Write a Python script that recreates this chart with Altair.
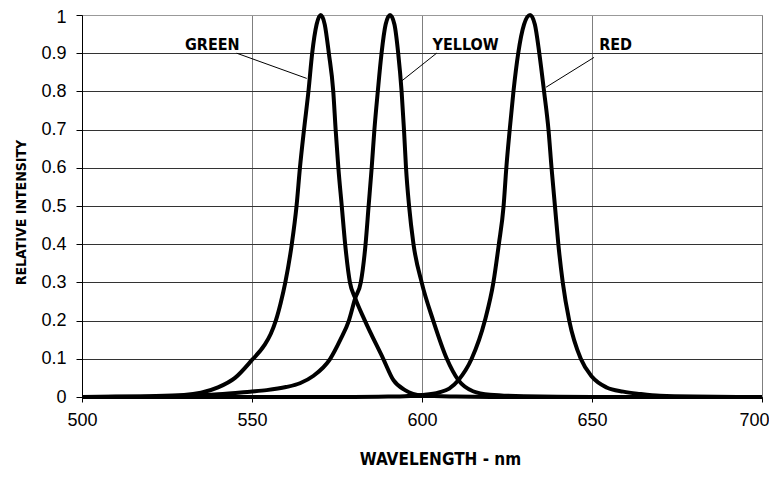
import altair as alt
import pandas as pd

# ---- data ----
green_wl = [500, 510, 520, 530, 535, 540, 545, 550, 553.6, 555.5, 557.0, 558.4, 559.8, 561.7, 563.1, 564.1, 565.3,
            566.6, 567.7, 569.0, 570.2, 571.4, 572.6, 573.9, 574.6, 575.4, 576.4, 577.4, 578.8, 580.3, 583.2,
            588.6, 591.6, 595, 600, 610, 620, 700]
green_v = [0, 0.001, 0.002, 0.005, 0.011, 0.025, 0.05, 0.097, 0.135, 0.165, 0.2, 0.245, 0.3, 0.4, 0.5, 0.6, 0.7,
           0.8, 0.9, 0.975, 1.0, 0.975, 0.9, 0.8, 0.7, 0.6, 0.5, 0.4, 0.3, 0.26, 0.2,
           0.1, 0.044, 0.018, 0.004, 0.001, 0, 0]

yellow_wl = [500, 520, 530, 540, 549.4, 554.3, 560, 564.1, 568, 573, 576, 578.5, 580.4, 582, 583.4, 584.3, 585.2,
             586, 587, 588.1, 589.3, 590.6, 591.9, 593.0, 594.0, 594.7, 595.3, 596.2, 597.5, 599.9, 603.3, 607.3,
             610.7, 615, 620, 630, 650, 700]
yellow_v = [0, 0.001, 0.003, 0.007, 0.014, 0.018, 0.026, 0.036, 0.055, 0.1, 0.15, 0.2, 0.26, 0.3, 0.4, 0.5, 0.6,
            0.7, 0.8, 0.9, 0.975, 1.0, 0.975, 0.9, 0.8, 0.7, 0.6, 0.5, 0.4, 0.3, 0.2, 0.1,
            0.044, 0.015, 0.006, 0.002, 0, 0]

red_wl = [500, 580, 590, 595, 600, 605, 608, 610.7, 614.6, 618.5, 621, 622.6, 624.0, 624.8, 625.8, 626.9, 628.3,
          630.0, 631.8, 633.2, 634.5, 635.9, 637.2, 638.1, 639.1, 640.1, 641.4, 643.3, 646.7, 650, 654.3, 659.2,
          664.1, 670, 680, 700]
red_v = [0, 0, 0.001, 0.002, 0.005, 0.012, 0.022, 0.044, 0.1, 0.2, 0.3, 0.4, 0.5, 0.6, 0.7, 0.8, 0.9,
         0.975, 1.0, 0.975, 0.9, 0.8, 0.7, 0.6, 0.5, 0.4, 0.3, 0.2, 0.1, 0.053, 0.025, 0.014,
         0.008, 0.003, 0.001, 0]

label_text = ["GREEN", "YELLOW", "RED"]
label_x = [530.3, 603.1, 652.1]
label_y = [0.908, 0.908, 0.908]

leader_x1 = [545.5, 604.3, 650.6]
leader_y1 = [0.9, 0.9, 0.889]
leader_x2 = [566.1, 593.7, 636.5]
leader_y2 = [0.834, 0.825, 0.811]

x_ticks = [500, 550, 600, 650, 700]
y_ticks = [0, 0.1, 0.2, 0.3, 0.4, 0.5, 0.6, 0.7, 0.8, 0.9, 1]

# ---- tables ----
rows = []
for name, wl, vals in [("GREEN", green_wl, green_v), ("YELLOW", yellow_wl, yellow_v), ("RED", red_wl, red_v)]:
    for w, v in zip(wl, vals):
        rows.append({"series": name, "wl": w, "v": v})
curves = pd.DataFrame(rows)
labels = pd.DataFrame({"text": label_text, "x": label_x, "y": label_y})
leaders = pd.DataFrame({"x1": leader_x1, "y1": leader_y1, "x2": leader_x2, "y2": leader_y2})

TICK_FONT = "Liberation Sans, Arial, sans-serif"
BOLD_COND = "DejaVu Sans Condensed, sans-serif"

x_scale = alt.Scale(domain=[500, 700], nice=False, zero=False)
y_scale = alt.Scale(domain=[0, 1], nice=False, zero=True)

x_axis = alt.Axis(values=x_ticks, format="d", labelFont=TICK_FONT, labelFontSize=18, labelColor="black",
                  labelPadding=9, tickSize=5, tickColor="black", domainColor="black",
                  gridColor="#7f7f7f", gridWidth=1, labelOverlap=False, labelFlush=False,
                  labelOffset={"condition": {"test": "datum.value === 700", "value": -8}, "value": 0},
                  title="WAVELENGTH - nm", titleFont=BOLD_COND, titleFontSize=17, titleFontWeight="bold",
                  titleColor="black", titleX=358, titleY=67, titleAlign="center", titleBaseline="alphabetic")
y_axis = alt.Axis(values=y_ticks, format="~g", labelFont=TICK_FONT, labelFontSize=18, labelColor="black",
                  labelPadding=10, tickSize=6, tickColor="black", domainColor="black",
                  labelOffset={"condition": {"test": "datum.value === 1", "value": 2}, "value": 0},
                  gridColor={"condition": {"test": "datum.value === 1", "value": "#999999"}, "value": "#333333"},
                  gridWidth=1, labelOverlap=False, labelFlush=False,
                  title="RELATIVE INTENSITY", titleFont=BOLD_COND, titleFontSize=14, titleFontWeight="bold",
                  titleColor="black", titleAngle=270, titleX=-57, titleY=197, titleAlign="center",
                  titleBaseline="alphabetic")

lines = alt.Chart(curves).mark_line(color="black", strokeWidth=4, interpolate="monotone").encode(
    x=alt.X("wl:Q", scale=x_scale, axis=x_axis),
    y=alt.Y("v:Q", scale=y_scale, axis=y_axis),
    detail="series:N",
)

leader_rules = alt.Chart(leaders).mark_rule(color="black", strokeWidth=1).encode(
    x=alt.X("x1:Q", scale=x_scale, axis=x_axis),
    y=alt.Y("y1:Q", scale=y_scale, axis=y_axis),
    x2="x2:Q",
    y2="y2:Q",
)

texts = alt.Chart(labels).mark_text(align="left", baseline="alphabetic", font=BOLD_COND, fontSize=16,
                                    fontWeight="bold", color="black").encode(
    x=alt.X("x:Q", scale=x_scale, axis=x_axis),
    y=alt.Y("y:Q", scale=y_scale, axis=y_axis),
    text="text:N",
)

chart = alt.layer(lines, leader_rules, texts).properties(
    width=680, height=382,
    autosize=alt.AutoSizeParams(type="none"),
    padding={"left": 74, "top": 7, "right": 7, "bottom": 72},
    background="white",
).configure_view(stroke="#999999", strokeWidth=1)

chart.save("out.html", embed_options={"renderer": "svg", "actions": False})
